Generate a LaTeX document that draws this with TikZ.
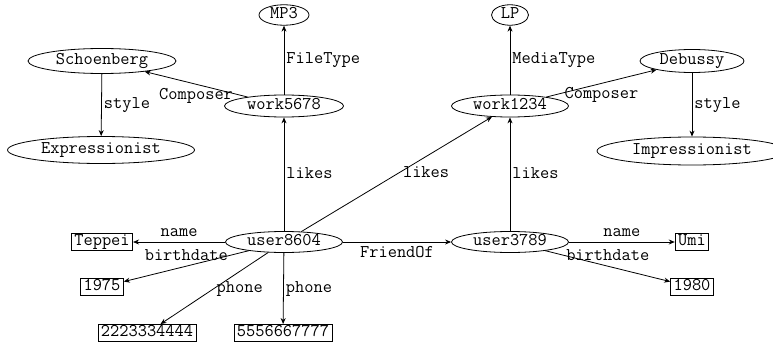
\documentclass[tikz,border=0pt]{standalone}
\usepackage{fontspec}
\usetikzlibrary{shapes.geometric, arrows.meta}

\begin{document}
\begin{tikzpicture}[x=1pt, y=-1pt,
    every node/.style={font=\ttfamily\fontsize{17.9}{20}\selectfont, text height=11pt, text depth=3.5pt},
    res/.style={draw, ellipse, inner sep=0pt, line width=0.8pt},
    lit/.style={draw, rectangle, inner xsep=3pt, inner ysep=1.3pt, line width=0.8pt},
    edge/.style={-{Stealth[length=6pt, width=5pt]}, line width=0.8pt},
    lbl/.style={inner sep=2pt}]
    \useasboundingbox (0,0) rectangle (773,345);

    % Resources (ellipses)
    \node[res, minimum width=50pt, minimum height=20pt] (mp3) at (284,15) {MP3};
    \node[res, minimum width=37pt, minimum height=20pt] (lp) at (510,15) {LP};
    \node[res, minimum width=148pt, minimum height=25pt] (schoen) at (102,61) {Schoenberg};
    \node[res, minimum width=104pt, minimum height=23pt] (debussy) at (692,61) {Debussy};
    \node[res, minimum width=119pt, minimum height=22pt] (w5678) at (284,106) {work5678};
    \node[res, minimum width=117pt, minimum height=22pt] (w1234) at (510,106) {work1234};
    \node[res, minimum width=187pt, minimum height=27pt] (expr) at (101,150) {Expressionist};
    \node[res, minimum width=190pt, minimum height=28pt] (impr) at (692,151) {Impressionist};
    \node[res, minimum width=117pt, minimum height=21pt] (u8604) at (284,242) {user8604};
    \node[res, minimum width=117pt, minimum height=21pt] (u3789) at (510,242) {user3789};

    % Literals (boxes)
    \node[lit] (teppei) at (102,242) {Teppei};
    \node[lit] (y1975) at (102,287) {1975};
    \node[lit] (ph1) at (147,333) {2223334444};
    \node[lit] (ph2) at (283,333) {5556667777};
    \node[lit] (umi) at (692,242) {Umi};
    \node[lit] (y1980) at (692,287) {1980};

    % Vertical properties, label on the right
    \foreach \a/\b/\t in {w5678/mp3/FileType, w1234/lp/MediaType, schoen/expr/style,
                          debussy/impr/style, u8604/w5678/likes, u3789/w1234/likes,
                          u8604/ph2/phone} {
        \draw[edge] (\a) -- node[lbl, right] {\t} (\b);
    }

    % The other properties
    \draw[edge] (w5678) -- node[lbl, below=2pt] {Composer} (schoen);
    \draw[edge] (w1234) -- node[lbl, below=2pt] {Composer} (debussy);
    \draw[edge] (u8604) -- node[lbl, right, xshift=4pt] {likes} (w1234);
    \draw[edge] (u8604) -- node[lbl, above] {name} (teppei);
    \draw[edge] (u8604) -- node[lbl, above] {birthdate} (y1975);
    \draw[edge] (u8604) -- node[lbl, right] {phone} (ph1);
    \draw[edge] (u8604) -- node[lbl, below=2pt] {FriendOf} (u3789);
    \draw[edge] (u3789) -- node[lbl, above] {name} (umi);
    \draw[edge] (u3789) -- node[lbl, above] {birthdate} (y1980);
\end{tikzpicture}
\end{document}
